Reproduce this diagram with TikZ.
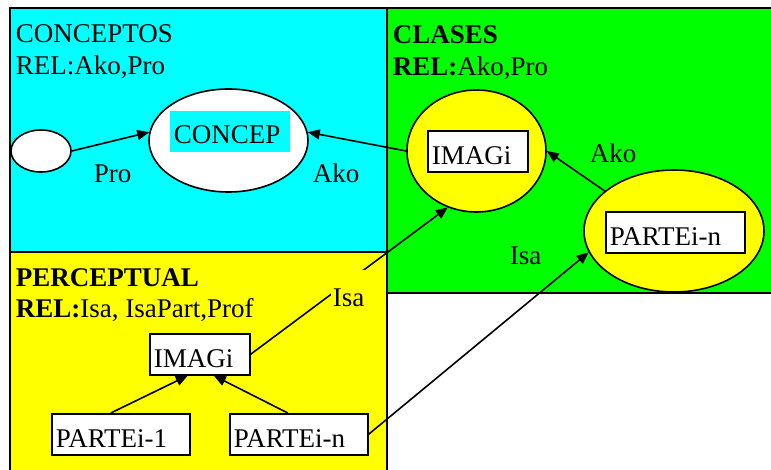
\documentclass[tikz,border=0pt]{standalone}
\usepackage{fontspec}
\setmainfont{Liberation Serif}
\usetikzlibrary{positioning,shapes.geometric,arrows.meta}
\definecolor{concyan}{RGB}{0,255,255}
\definecolor{clagreen}{RGB}{0,255,0}
\definecolor{peryellow}{RGB}{255,255,0}

\begin{document}
\begin{tikzpicture}[x=1pt, y=-1pt, line width=1.6pt,
  font=\fontsize{27}{31}\selectfont,
  oval/.style={draw, ellipse, inner sep=0pt},
  box/.style={draw, fill=white, anchor=north west, inner xsep=4pt, inner ysep=0pt, text height=34pt, text depth=7pt, align=left},
  lbl/.style={anchor=base west, inner sep=0pt},
  rel/.style={-{Triangle[length=12pt, width=10pt]}}]

\useasboundingbox (0,0) rectangle (771,470);
\clip (0,0) rectangle (771,470);

\draw[fill=concyan] (10,8) rectangle (387,252);
\draw[fill=clagreen] (387,8) rectangle (775,293);
\draw[fill=peryellow] (10,252) rectangle (387,480);

\node[lbl] (tc) at (15,43) {CONCEPTOS};
\node[lbl] (rc) at (15,75) {REL:Ako,Pro};
\node[lbl] (tg) at (392,44) {\textbf{CLASES}};
\node[lbl] (rg) at (392,76) {\textbf{REL:}Ako,Pro};
\node[lbl] (ty) at (15,287) {\textbf{PERCEPTUAL}};
\node[lbl] (ry) at (15,318) {\textbf{REL:}Isa, IsaPart,Prof};

\node[oval, fill=white, minimum width=60pt, minimum height=42pt] (s) at (41,151) {};
\node[oval, fill=white, minimum width=159pt, minimum height=103pt] (c) at (228.5,140.5) {};
\node[box, draw=none, fill=concyan, text width=112pt, text height=33pt, text depth=8pt] (ct) at (169,110) {CONCEP};

\node[oval, fill=peryellow, minimum width=139pt, minimum height=122pt] (i) at (476.5,151) {};
\node[box, text width=92pt] (ib) at (427,130) {IMAGi};
\node[oval, fill=peryellow, minimum width=180pt, minimum height=122pt] (p) at (674,231) {};
\node[box, text width=131pt] (pb) at (605,211) {PARTEi-n};

\node[box, text width=92pt] (yi) at (149,333) {IMAGi};
\node[box, text width=130pt] (y1) at (51,413) {PARTEi-1};
\node[box, text width=130pt] (yn) at (229,413) {PARTEi-n};

\draw[rel] (s.east) -- (c.174);
\draw[rel] (i.west) -- (c.6);
\draw[rel] (p.150) -- (i.east);
\draw[rel] (yi.east) -- (i.243);
\draw[rel] (yn.east) -- (p.194);
\draw[rel] ([xshift=-10pt]y1.north) -- ([xshift=-12pt]yi.south);
\draw[rel] ([xshift=-11pt]yn.north) -- ([xshift=14pt]yi.south);

\node[lbl] (lp) at (93,183) {Pro};
\node[lbl] (la) at (312,183) {Ako};
\node[lbl] (lg) at (589,163) {Ako};
\node[lbl] (li) at (509,265) {Isa};
\node[lbl, fill=peryellow, inner xsep=2pt, text height=36pt, text depth=3pt] (ly) at (330,306) {Isa};

\end{tikzpicture}
\end{document}
